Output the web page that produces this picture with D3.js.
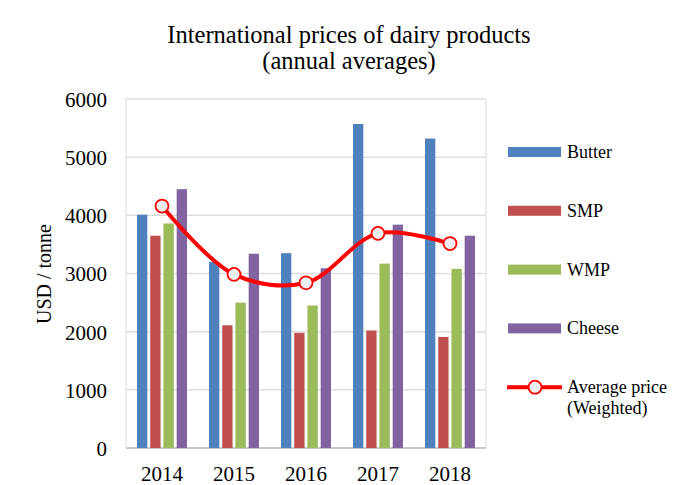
<!DOCTYPE html>
<html>
<head>
<meta charset="utf-8">
<script src="https://cdn.jsdelivr.net/npm/d3@7"></script>
<style>
  body { margin: 0; background: #fff; }
  text { font-family: "Liberation Serif", "Times New Roman", serif; fill: #000; }
</style>
</head>
<body>
<div id="chart"></div>
<script>
// Data
const years = ['2014', '2015', '2016', '2017', '2018'];
const products = ['Butter', 'SMP', 'WMP', 'Cheese'];
const butter = [4010, 3200, 3350, 5570, 5320];
const smp = [3650, 2110, 1980, 2020, 1910];
const wmp = [3860, 2500, 2450, 3170, 3080];
const cheese = [4450, 3340, 3090, 3840, 3650];
const avg_price = [4160, 2985, 2840, 3690, 3515];
const y_ticks = [0, 1000, 2000, 3000, 4000, 5000, 6000];
const colors = ['#4f81bd', '#c0504d', '#9bbb59', '#8064a2'];

const series = [butter, smp, wmp, cheese];

const svg_width = 673;
const svg_height = 485;
const margin = {left: 126, right: 187, top: 99, bottom: 37};
const plot_width = svg_width - margin.left - margin.right;
const plot_height = svg_height - margin.top - margin.bottom;

const svg = d3.select('#chart').append('svg')
    .attr('width', svg_width)
    .attr('height', svg_height);

// Title
svg.append('text')
    .attr('x', 349).attr('y', 43)
    .style('text-anchor', 'middle')
    .style('font-size', '24.5px')
    .text('International prices of dairy products');
svg.append('text')
    .attr('x', 349).attr('y', 69)
    .style('text-anchor', 'middle')
    .style('font-size', '24.5px')
    .text('(annual averages)');

const g = svg.append('g')
    .attr('transform', `translate(${margin.left},${margin.top})`);

const x_scale = d3.scaleBand().domain(years).range([0, plot_width]).paddingInner(0).paddingOuter(0);
const x_inner = d3.scaleBand().domain(products).range([11, x_scale.bandwidth() - 11]).paddingInner(0.22);
const y_scale = d3.scaleLinear().domain([0, 6000]).range([plot_height, 0]);

// Gridlines + frame
g.append('g')
    .attr('class', 'grid')
    .selectAll('line')
    .data(y_ticks)
    .enter()
    .append('line')
    .attr('x1', 0).attr('x2', plot_width)
    .attr('y1', d => y_scale(d)).attr('y2', d => y_scale(d))
    .style('stroke', d => d === 0 ? '#c8c8c8' : '#dedede')
    .style('stroke-width', d => d === 0 ? 2 : 1.5);

g.append('line')
    .attr('x1', 0).attr('x2', 0)
    .attr('y1', 0).attr('y2', plot_height)
    .style('stroke', '#e6e6e6').style('stroke-width', 1.5);
g.append('line')
    .attr('x1', plot_width).attr('x2', plot_width)
    .attr('y1', 0).attr('y2', plot_height)
    .style('stroke', '#e6e6e6').style('stroke-width', 1.5);

// Y axis labels
const y_axis = d3.axisLeft(y_scale)
    .tickValues(y_ticks)
    .tickSize(0)
    .tickPadding(19)
    .tickFormat(d3.format('d'));
g.append('g')
    .attr('class', 'y axis')
    .call(y_axis)
    .call(sel => sel.select('.domain').remove())
    .selectAll('text')
    .style('font-size', '21px')
    .style('font-family', '"Liberation Serif", serif')
    .attr('dy', '0.35em');

// X axis labels
const x_axis = d3.axisBottom(x_scale).tickSize(0).tickPadding(18);
g.append('g')
    .attr('class', 'x axis')
    .attr('transform', `translate(0,${plot_height})`)
    .call(x_axis)
    .call(sel => sel.select('.domain').remove())
    .selectAll('text')
    .style('font-size', '21px')
    .style('font-family', '"Liberation Serif", serif');

svg.append('text')
    .style('text-anchor', 'middle')
    .style('font-size', '20px')
    .attr('transform', `translate(51,${margin.top + 175})rotate(-90)`)
    .text('USD / tonne');

// Bars
const bar_data = [];
years.forEach((yr, i) => {
    products.forEach((p, j) => {
        bar_data.push({year: yr, product: p, value: series[j][i], color: colors[j]});
    });
});

g.append('g')
    .attr('class', 'bars')
    .selectAll('rect')
    .data(bar_data)
    .enter()
    .append('rect')
    .attr('x', d => x_scale(d.year) + x_inner(d.product))
    .attr('width', x_inner.bandwidth())
    .attr('y', d => y_scale(d.value))
    .attr('height', d => y_scale(0) - y_scale(d.value))
    .style('fill', d => d.color);

// Average price line
const avg_points = years.map((yr, i) => ({year: yr, value: avg_price[i]}));
const line = d3.line()
    .x(d => x_scale(d.year) + x_scale.bandwidth() / 2)
    .y(d => y_scale(d.value))
    .curve(d3.curveCatmullRom.alpha(0.5));

g.append('path')
    .datum(avg_points)
    .attr('d', line)
    .style('fill', 'none')
    .style('stroke', '#ff0000')
    .style('stroke-width', 4);

g.append('g')
    .selectAll('circle')
    .data(avg_points)
    .enter()
    .append('circle')
    .attr('cx', d => x_scale(d.year) + x_scale.bandwidth() / 2)
    .attr('cy', d => y_scale(d.value))
    .attr('r', 6.5)
    .style('fill', '#eeeeee')
    .style('stroke', '#ff0000')
    .style('stroke-width', 1.8);

// Legend
const legend = svg.append('g').attr('transform', 'translate(508,152)');
const legend_step = 58.8;
products.forEach((p, j) => {
    legend.append('rect')
        .attr('x', 0).attr('y', j * legend_step - 5)
        .attr('width', 53).attr('height', 10)
        .style('fill', colors[j]);
    legend.append('text')
        .attr('x', 59).attr('y', j * legend_step + 6)
        .style('font-size', '18px')
        .text(p);
});
const ly = 4 * legend_step;
legend.append('line')
    .attr('x1', -1).attr('x2', 54)
    .attr('y1', ly).attr('y2', ly)
    .style('stroke', '#ff0000').style('stroke-width', 4);
legend.append('circle')
    .attr('cx', 27).attr('cy', ly).attr('r', 6.5)
    .style('fill', '#eeeeee')
    .style('stroke', '#ff0000')
    .style('stroke-width', 1.8);
legend.append('text')
    .attr('x', 59).attr('y', ly + 6)
    .style('font-size', '18px')
    .text('Average price');
legend.append('text')
    .attr('x', 59).attr('y', ly + 27)
    .style('font-size', '18px')
    .text('(Weighted)');
</script>
</body>
</html>
